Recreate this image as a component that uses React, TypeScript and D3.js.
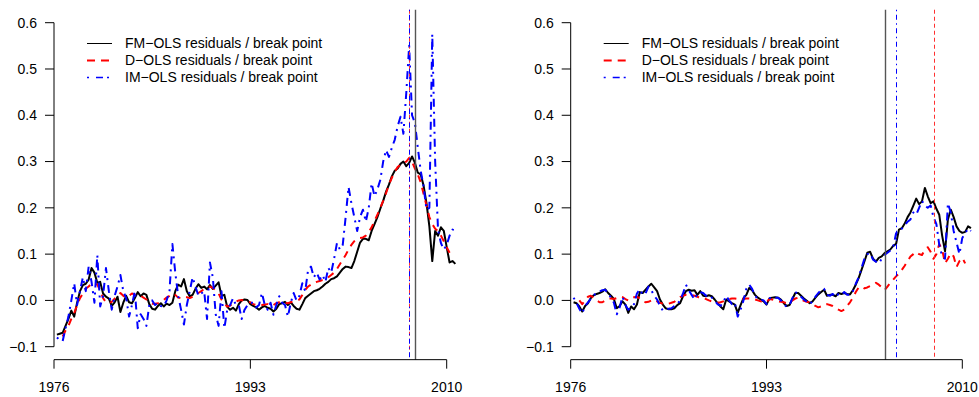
import React from 'react';
import * as d3 from 'd3';

// quarterly observations, first one is 1976 Q2
const startYear = 1976.25;
const stepYears = 0.25;

const leftFM = [
  -0.074,-0.072,-0.070,-0.055,-0.040,-0.022,-0.035,-0.005,0.020,0.033,
  0.036,0.045,0.070,0.060,0.038,0.040,0.015,0.008,0.004,-0.012,
  -0.004,0.008,-0.025,-0.005,0.010,-0.004,-0.006,0.005,0.018,0.009,
  0.015,0.012,-0.008,-0.018,-0.020,-0.012,-0.006,-0.013,-0.007,-0.010,
  -0.005,0.020,0.034,0.030,0.046,0.020,0.009,0.012,0.025,0.035,
  0.027,0.030,0.024,0.033,0.025,0.032,0.039,0.010,0.012,-0.014,
  -0.020,-0.016,-0.022,-0.008,0.000,0.002,0.001,-0.008,-0.012,-0.015,
  -0.020,-0.015,-0.012,-0.016,-0.018,-0.024,-0.018,-0.008,-0.006,-0.003,
  -0.010,-0.004,-0.012,-0.018,-0.020,-0.008,0.005,0.010,0.015,0.020,
  0.022,0.025,0.030,0.036,0.040,0.046,0.048,0.052,0.060,0.068,
  0.073,0.072,0.070,0.085,0.105,0.125,0.133,0.133,0.130,0.150,
  0.165,0.180,0.198,0.215,0.235,0.250,0.268,0.280,0.285,0.295,
  0.300,0.290,0.297,0.311,0.297,0.276,0.272,0.248,0.210,0.160,
  0.085,0.150,0.140,0.158,0.150,0.115,0.082,0.085,0.079,
];

const leftDOLS = [
  null,null,-0.078,-0.065,-0.055,-0.040,-0.028,-0.010,0.005,0.015,
  0.025,0.030,0.036,0.037,0.034,0.022,0.005,-0.004,-0.006,-0.003,
  0.004,0.010,0.016,0.010,0.006,0.010,0.015,0.012,0.009,0.010,
  0.006,0.002,-0.004,-0.007,-0.007,-0.006,-0.003,0.001,0.006,0.010,
  0.015,0.012,0.006,0.005,0.008,0.007,0.005,0.008,0.012,0.016,
  0.020,0.025,0.028,0.030,0.027,0.022,0.015,0.002,-0.008,-0.013,
  -0.011,-0.007,-0.003,0.000,0.001,-0.001,-0.002,-0.004,-0.008,-0.010,
  -0.010,-0.010,-0.009,-0.008,-0.012,-0.010,-0.006,-0.004,-0.003,-0.005,
  -0.006,-0.004,-0.002,0.000,0.002,0.012,0.023,0.030,0.034,0.037,
  0.040,0.042,0.044,0.046,0.050,0.055,0.060,0.068,0.078,0.088,
  0.098,0.110,0.120,0.128,0.133,0.135,0.136,0.140,0.148,0.158,
  0.172,0.185,0.200,0.215,0.232,0.250,0.265,0.278,0.288,0.293,
  0.297,0.300,0.308,0.300,0.285,0.272,0.255,0.230,0.205,0.180,
  0.165,0.155,0.150,0.140,0.128,0.115,0.103,null,null,
];

const leftIMOLS = [
  -0.080,-0.085,-0.088,-0.060,-0.035,0.000,0.037,-0.010,0.020,0.050,
  0.020,0.073,0.040,-0.005,0.098,-0.013,0.010,0.070,0.020,-0.020,
  0.010,0.030,0.055,0.020,0.005,-0.035,-0.010,0.020,-0.060,-0.030,
  -0.040,-0.055,-0.010,0.000,-0.010,-0.005,-0.012,-0.013,0.000,0.020,
  0.122,0.060,0.010,-0.020,-0.052,-0.010,0.020,0.050,0.030,0.010,
  0.015,0.020,-0.040,0.082,0.050,-0.030,-0.055,0.020,-0.060,-0.020,
  -0.010,0.005,-0.010,-0.010,-0.040,-0.020,-0.010,-0.005,-0.005,-0.015,
  -0.010,0.016,-0.010,-0.020,-0.005,-0.031,-0.010,0.009,-0.005,-0.010,
  -0.035,-0.005,0.016,0.000,0.010,0.037,0.020,0.066,0.073,0.050,
  0.060,0.045,0.055,0.040,0.070,0.060,0.090,0.124,0.110,0.120,
  0.180,0.245,0.210,0.180,0.150,0.180,0.196,0.170,0.200,0.253,
  0.225,0.240,0.260,0.300,0.325,0.310,0.330,0.347,0.376,0.397,
  0.360,0.448,0.550,0.400,0.383,0.330,0.280,0.246,0.196,0.200,
  0.575,0.300,0.153,0.124,0.110,0.120,0.140,0.153,0.150,
];

const rightFM = [
  -0.004,-0.006,-0.013,-0.024,-0.012,-0.006,0.005,0.011,0.014,0.016,
  0.019,0.024,0.016,0.010,0.003,-0.017,-0.012,-0.002,-0.009,-0.027,
  -0.013,-0.019,-0.009,0.018,0.016,0.023,0.030,0.036,0.028,0.020,
  0.002,-0.009,-0.017,-0.019,-0.019,-0.017,-0.010,-0.006,0.009,0.020,
  0.023,0.021,0.022,0.012,0.020,0.010,0.009,0.011,0.009,0.002,
  -0.006,-0.013,-0.019,0.002,-0.002,-0.006,-0.009,-0.027,-0.010,0.005,
  0.012,0.027,0.022,0.012,0.006,0.002,-0.002,-0.009,0.004,0.006,
  0.007,0.006,0.002,-0.006,-0.012,-0.010,0.003,0.016,0.016,0.010,
  0.004,-0.001,-0.006,-0.002,0.006,0.013,0.018,0.023,0.010,0.012,
  0.012,0.009,0.016,0.014,0.016,0.014,0.013,0.022,0.034,0.048,
  0.066,0.084,0.103,0.105,0.090,0.084,0.092,0.095,0.102,0.106,
  0.110,0.118,0.122,0.153,0.156,0.166,0.180,0.190,0.205,0.220,
  0.208,0.214,0.243,0.225,0.210,0.214,0.198,0.185,0.140,0.106,
  0.175,0.196,0.180,0.160,0.150,0.146,0.148,0.160,0.156,
];

const rightDOLS = [
  null,null,0.000,-0.008,0.000,0.008,0.010,0.006,0.000,-0.004,
  -0.004,0.000,0.004,0.004,0.003,0.005,0.008,0.007,0.003,0.000,
  0.004,0.007,0.008,0.004,-0.002,-0.004,-0.003,0.000,0.002,-0.002,
  -0.005,-0.007,-0.007,-0.007,-0.005,-0.003,0.002,0.007,0.010,0.012,
  0.012,0.012,0.010,0.008,0.005,0.005,0.003,0.000,-0.002,-0.004,
  -0.005,-0.004,-0.002,0.000,0.003,0.004,0.004,0.003,0.002,0.003,
  0.004,0.004,0.003,0.002,0.000,-0.002,-0.003,-0.004,0.003,0.002,
  0.000,-0.002,-0.003,-0.004,-0.006,-0.004,0.000,0.004,0.006,0.003,
  -0.001,-0.003,-0.004,-0.008,-0.012,-0.015,-0.013,-0.009,-0.008,-0.010,
  -0.012,-0.016,-0.020,-0.023,-0.020,-0.012,-0.004,0.006,0.018,0.028,
  0.030,0.026,0.028,0.031,0.035,0.038,0.034,0.028,0.022,0.030,
  0.038,0.045,0.052,0.058,0.066,0.075,0.085,0.095,0.100,0.105,
  0.100,0.098,0.110,0.115,0.105,0.090,0.100,0.122,0.110,0.080,
  0.090,0.102,0.095,0.072,0.085,0.092,0.080,null,null,
];

const rightIMOLS = [
  0.006,-0.005,-0.018,-0.028,-0.012,-0.004,0.004,0.012,0.015,0.019,
  0.022,0.023,0.015,0.006,-0.005,-0.030,-0.015,0.008,-0.010,-0.020,
  -0.015,-0.008,0.015,0.024,0.012,0.015,0.030,0.022,0.010,0.002,
  -0.012,-0.022,-0.020,-0.018,-0.017,-0.012,-0.008,0.000,0.015,0.034,
  0.022,0.012,0.002,0.015,0.018,0.016,0.010,0.012,0.006,0.000,
  -0.008,-0.012,-0.004,0.010,0.000,-0.008,-0.005,-0.035,-0.020,0.000,
  0.025,0.034,0.025,0.010,0.003,0.002,0.000,-0.008,0.004,0.008,
  0.006,0.006,0.000,-0.008,-0.014,-0.010,0.005,0.018,0.014,0.008,
  0.002,-0.003,-0.008,-0.002,0.008,0.016,0.022,0.025,0.012,0.010,
  0.014,0.007,0.014,0.012,0.018,0.012,0.012,0.020,0.036,0.050,
  0.070,0.090,0.100,0.102,0.088,0.084,0.080,0.090,0.098,0.103,
  0.108,0.115,0.145,0.150,0.155,0.162,0.170,0.175,0.190,0.185,
  0.200,0.215,0.205,0.200,0.205,0.180,0.165,0.120,0.095,0.090,
  0.210,0.190,0.150,0.125,0.100,0.135,0.145,0.155,0.150,
];

// break dates: FM-OLS, D-OLS, IM-OLS
const leftBreaks = [2007.25, 2006.75, 2006.75];
const rightBreaks = [2003.25, 2007.5, 2004.25];

const xTickYears = [1976, 1993, 2010];
const yTickValues = [-0.1, 0.0, 0.1, 0.2, 0.3, 0.4, 0.5, 0.6];
const legendLabels = [
  'FM\u2212OLS residuals / break point',
  'D\u2212OLS residuals / break point',
  'IM\u2212OLS residuals / break point',
];

const FONT = '"Liberation Sans", Arial, Helvetica, sans-serif';
const seriesColors = ['#000000', '#ff0000', '#0000ff'];
const breakColors = ['#555555', '#ff3030', '#0000ff'];
const seriesDash = [null, '7,6', '2,5,8,5'];
const breakDash = [null, '4,3', '1.5,3.5,5,3.5'];
const legendDash = [null, '8,6', '2,7,7,4'];
const legendWidth = [1, 2, 1.6];

type Val = number | null;

function fmtTick(v: number) {
  const s = d3.format('.1f')(v);
  return s.replace('-', '\u2212');
}

function Panel({ x0, x1, series, breaks }: { x0: number; x1: number; series: Val[][]; breaks: number[] }) {
  const x = d3.scaleLinear().domain([1976, 2010]).range([x0, x1]);
  const y = d3.scaleLinear().domain([-0.1, 0.6]).range([346.7, 22.7]);
  const yTop = y(0.628);
  const yBottom = y(-0.128);
  const mk = (arr: Val[]) =>
    d3
      .line<Val>()
      .defined((d) => d != null)
      .x((_, i) => x(startYear + i * stepYears))
      .y((d) => y(d as number))(arr) || '';
  const snap = (v: number) => Math.round(v) + 0.5;

  return (
    <g>
      {series.map((s, i) => (
        <path
          key={'s' + i}
          d={mk(s)}
          fill="none"
          stroke={seriesColors[i]}
          strokeWidth={2}
          strokeDasharray={seriesDash[i] || undefined}
          strokeLinejoin="round"
        />
      ))}
      {breaks.map((b, i) => (
        <line
          key={'b' + i}
          x1={snap(x(b))}
          x2={snap(x(b))}
          y1={yTop}
          y2={yBottom}
          stroke={breakColors[i]}
          strokeWidth={i === 0 ? 1.4 : 1}
          strokeDasharray={breakDash[i] || undefined}
        />
      ))}
      <line x1={x0} x2={x0} y1={y(-0.1)} y2={y(0.6)} stroke="#000" strokeWidth={1} />
      {yTickValues.map((v) => (
        <g key={'y' + v}>
          <line x1={x0 - 9} x2={x0} y1={y(v)} y2={y(v)} stroke="#000" strokeWidth={1} />
          <text x={x0 - 17} y={y(v)} dy="0.35em" textAnchor="end" fontFamily={FONT} fontSize={14} fill="#000">
            {fmtTick(v)}
          </text>
        </g>
      ))}
      <line x1={x(1976)} x2={x(2010)} y1={yBottom} y2={yBottom} stroke="#000" strokeWidth={1} />
      {xTickYears.map((yr) => (
        <g key={'x' + yr}>
          <line x1={x(yr)} x2={x(yr)} y1={yBottom} y2={yBottom + 9} stroke="#000" strokeWidth={1} />
          <text x={x(yr)} y={391.5} textAnchor="middle" fontFamily={FONT} fontSize={14} fill="#000">
            {yr}
          </text>
        </g>
      ))}
      {legendLabels.map((lab, i) => {
        const ly = 43.5 + i * 17;
        return (
          <g key={'l' + i}>
            <line
              x1={x0 + 33}
              x2={x0 + 58}
              y1={ly}
              y2={ly}
              stroke={seriesColors[i]}
              strokeWidth={legendWidth[i]}
              strokeDasharray={legendDash[i] || undefined}
            />
            <text x={x0 + 71} y={ly} dy="0.35em" fontFamily={FONT} fontSize={14} fill="#000">
              {lab}
            </text>
          </g>
        );
      })}
    </g>
  );
}

export default function App() {
  return (
    <svg
      width={979}
      height={397}
      style={{ position: 'absolute', left: 0, top: 0, background: '#fff' }}
    >
      <rect width={979} height={397} fill="#fff" />
      <Panel x0={54} x1={446.7} series={[leftFM, leftDOLS, leftIMOLS]} breaks={leftBreaks} />
      <Panel x0={570.7} x1={962.3} series={[rightFM, rightDOLS, rightIMOLS]} breaks={rightBreaks} />
    </svg>
  );
}
